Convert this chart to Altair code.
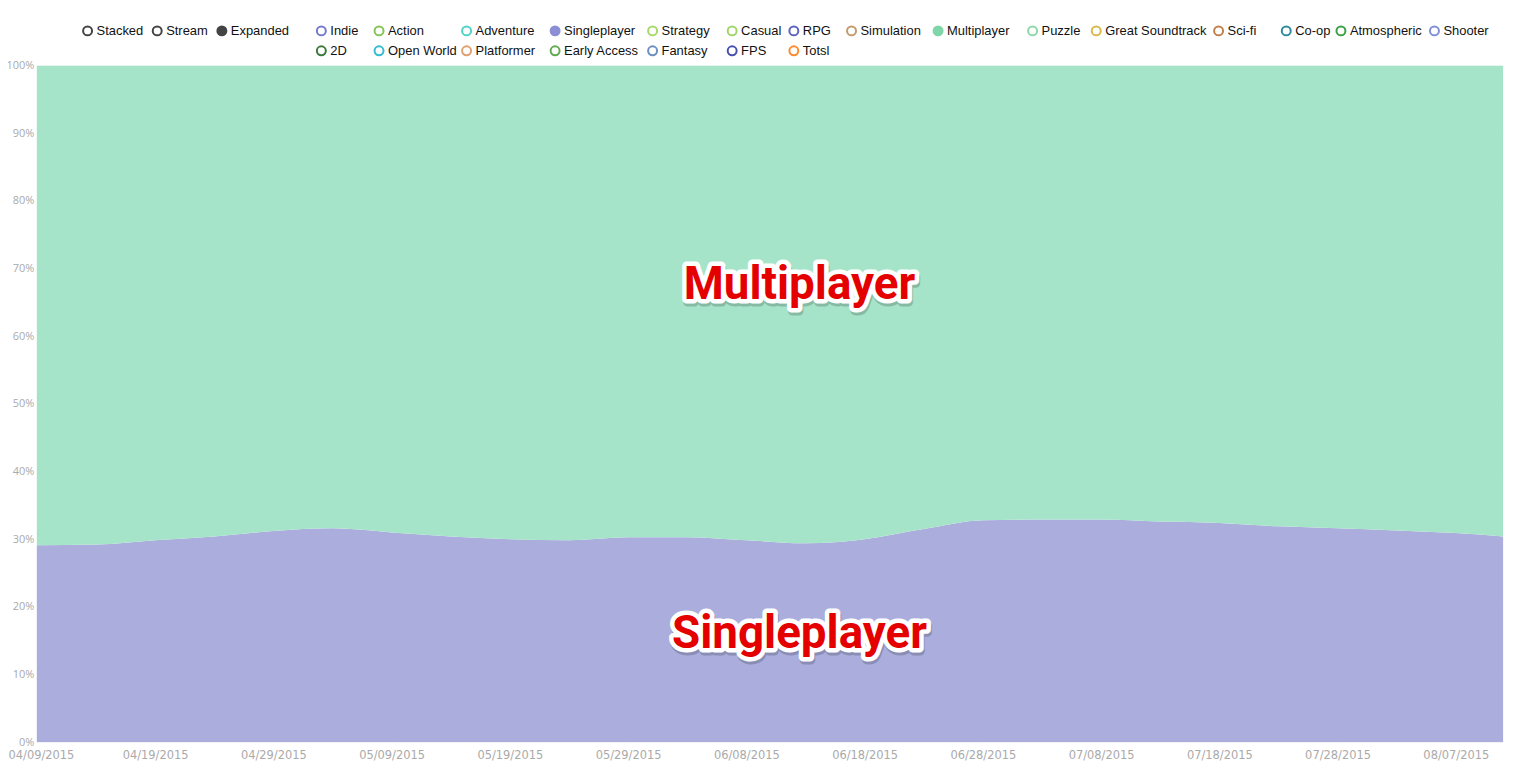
import altair as alt
import pandas as pd

# ---------------- data ----------------
dates = ["2015-04-09", "2015-04-14", "2015-04-19", "2015-04-24", "2015-04-29",
         "2015-05-04", "2015-05-09", "2015-05-14", "2015-05-19", "2015-05-24",
         "2015-05-29", "2015-06-03", "2015-06-08", "2015-06-13", "2015-06-18",
         "2015-06-23", "2015-06-28", "2015-07-03", "2015-07-08", "2015-07-13",
         "2015-07-18", "2015-07-23", "2015-07-28", "2015-08-02", "2015-08-07",
         "2015-08-11"]
singleplayer = [29.1, 29.2, 29.85, 30.4, 31.2, 31.6, 31.0, 30.4, 30.0, 29.85,
                30.3, 30.3, 29.85, 29.4, 30.0, 31.5, 32.8, 32.9, 32.9, 32.6,
                32.4, 31.9, 31.6, 31.3, 30.9, 30.4]
multiplayer = [70.9, 70.8, 70.15, 69.6, 68.8, 68.4, 69.0, 69.6, 70.0, 70.15,
               69.7, 69.7, 70.15, 70.6, 70.0, 68.5, 67.2, 67.1, 67.1, 67.4,
               67.6, 68.1, 68.4, 68.7, 69.1, 69.6]

series_names = ["Singleplayer", "Multiplayer"]
series_colors = ["#abaedd", "#a6e4c9"]

tick_dates = ["2015-04-09", "2015-04-19", "2015-04-29", "2015-05-09", "2015-05-19",
              "2015-05-29", "2015-06-08", "2015-06-18", "2015-06-28", "2015-07-08",
              "2015-07-18", "2015-07-28", "2015-08-07"]
y_ticks = [i / 20 for i in range(21)]

# big annotation labels
label_names = ["Multiplayer", "Singleplayer"]
label_dates = ["2015-06-12 12:00", "2015-06-12 12:00"]
label_pos = [0.676, 0.160]

# legend contents
controls = ["Stacked", "Stream", "Expanded"]
controls_on = [False, False, True]
legend_row1 = ["Indie", "Action", "Adventure", "Singleplayer", "Strategy", "Casual",
               "RPG", "Simulation", "Multiplayer", "Puzzle", "Great Soundtrack",
               "Sci-fi", "Co-op", "Atmospheric", "Shooter"]
legend_row2 = ["2D", "Open World", "Platformer", "Early Access", "Fantasy", "FPS", "Totsl"]
legend_colors = {
    "Indie": "#7479cf", "Action": "#86c453", "Adventure": "#52d2c4",
    "Singleplayer": "#8c8fd4", "Strategy": "#a8d96b", "Casual": "#a2d46c",
    "RPG": "#5d63bf", "Simulation": "#c29a6c", "Multiplayer": "#7fd6a8",
    "Puzzle": "#8cd8a6", "Great Soundtrack": "#d9b94c", "Sci-fi": "#c2804e",
    "Co-op": "#31899c", "Atmospheric": "#3aa045", "Shooter": "#7f8fd8",
    "2D": "#3b7a3b", "Open World": "#34bcd0", "Platformer": "#e0a070",
    "Early Access": "#62aa52", "Fantasy": "#6d8fbf", "FPS": "#4a50b0",
    "Totsl": "#ff8a30",
}
legend_active = ["Singleplayer", "Multiplayer"]

# ---------------- layout (pixels) ----------------
PAD_L, PAD_T, PAD_R, PAD_B = 29, 56, 17, 20
W, H = 1474, 680
control_x = [51, 121, 186]
column_x = [286, 344, 432, 521, 619, 699, 761, 819, 906, 1001, 1065, 1188, 1256, 1311, 1405]
row_y = [-35, -15]

# ---------------- tables ----------------
rows = []
for name, vals in zip(series_names, [singleplayer, multiplayer]):
    for d, v in zip(dates, vals):
        rows.append({"date": pd.Timestamp(d), "series": name, "value": v,
                     "order": series_names.index(name)})
df = pd.DataFrame(rows)

lab = pd.DataFrame({"date": [pd.Timestamp(d) for d in label_dates],
                    "pos": label_pos, "text": label_names})

leg = []
for i, (c, on) in enumerate(zip(controls, controls_on)):
    leg.append({"x": control_x[i], "y": row_y[0], "name": c, "stroke": "#444444",
                "fill": "#444444" if on else "#ffffff"})
for r, names in enumerate([legend_row1, legend_row2]):
    for i, n in enumerate(names):
        col = legend_colors[n]
        leg.append({"x": column_x[i], "y": row_y[r], "name": n, "stroke": col,
                    "fill": col if n in legend_active else "#ffffff"})
legdf = pd.DataFrame(leg)
legdf["tx"] = legdf["x"] + 9

# ---------------- chart ----------------
x_enc = alt.X("date:T", title=None,
              scale=alt.Scale(nice=False),
              axis=alt.Axis(values=[alt.DateTime(year=int(t[:4]), month=int(t[5:7]), date=int(t[8:]))
                                    for t in tick_dates],
                            format="%m/%d/%Y", labelPadding=7, ticks=False, domain=False,
                            grid=True, labelFlush=2, labelFlushOffset=29,
                            labelOverlap=False, labelFontSize=11.5, labelFont="DejaVu Sans"))

area = alt.Chart(df).mark_area(interpolate="monotone", opacity=1).encode(
    x=x_enc,
    y=alt.Y("value:Q", stack="normalize", title=None,
            scale=alt.Scale(domain=[0, 1], nice=False),
            axis=alt.Axis(values=y_ticks, format=".0%", labelPadding=3, ticks=False,
                          domain=False, grid=True, labelOverlap=False, labelFontSize=11,
                          labelFont="Open Sans")),
    color=alt.Color("series:N", legend=None,
                    scale=alt.Scale(domain=series_names, range=series_colors)),
    order=alt.Order("order:Q"),
)

def big_text(**kw):
    return alt.Chart(lab).mark_text(font="Roboto", fontSize=46, fontWeight="bold",
                                    align="center", baseline="middle", **kw).encode(
        x="date:T", y="pos:Q", text="text:N")

shadow = big_text(color="#000000", stroke="#000000", strokeWidth=9, opacity=0.18, dx=1, dy=3,
                  strokeJoin="round")
halo = big_text(color="#ffffff", stroke="#ffffff", strokeWidth=9, strokeJoin="round")
red = big_text(color="#e50000")

base = alt.layer(area, shadow, halo, red)

circles = alt.Chart(legdf).mark_point(shape="circle", size=81, strokeWidth=2, opacity=1,
                                      filled=False).encode(
    x=alt.X("x:Q", scale=None, axis=None),
    y=alt.Y("y:Q", scale=None, axis=None),
    stroke=alt.Stroke("stroke:N", scale=None),
    fill=alt.Fill("fill:N", scale=None),
)
ltext = alt.Chart(legdf).mark_text(font="Liberation Sans", fontSize=13, align="left",
                                   baseline="middle", color="#111111").encode(
    x=alt.X("tx:Q", scale=None, axis=None),
    y=alt.Y("y:Q", scale=None, axis=None),
    text="name:N",
)
legend = alt.layer(circles, ltext)

chart = alt.layer(base, legend).resolve_scale(x="independent", y="independent").properties(
    width=W, height=H, autosize=alt.AutoSizeParams(type="none"),
    padding={"left": PAD_L, "top": PAD_T, "right": PAD_R, "bottom": PAD_B},
).configure_view(stroke=None).configure_axis(
    labelColor="#aaaaaa", gridColor="#000000", gridOpacity=0.06, zindex=1,
)

chart.save("out.html", embed_options={"renderer": "svg", "actions": False})
